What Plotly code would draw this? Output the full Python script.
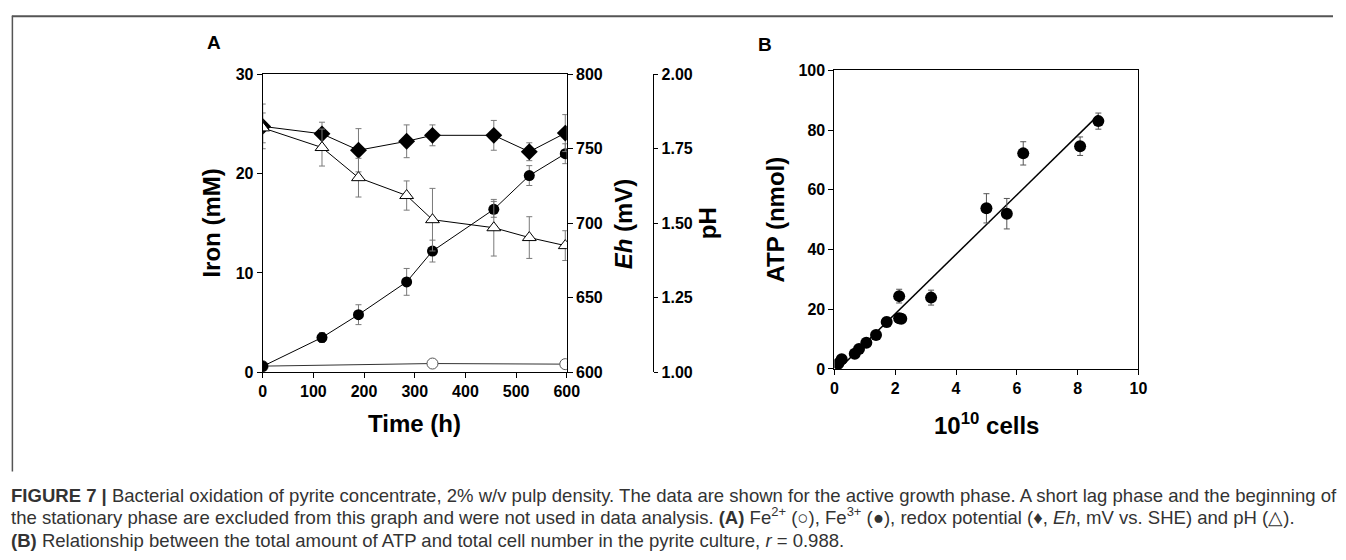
import plotly.graph_objects as go

W, H = 1346, 560

# ---------------- Panel A data ----------------
fe3_time = [0, 117, 189, 284, 335, 456, 526, 597]
fe3_iron = [0.6, 3.5, 5.8, 9.1, 12.2, 16.4, 19.8, 22.0]
fe3_err = [0.2, 0.5, 1.0, 1.35, 1.1, 0.8, 1.0, 1.0]

fe2_time = [0, 335, 597]
fe2_iron = [0.62, 0.88, 0.82]
fe2_err = [0.2, 0.2, 0.2]

eh_time = [0, 117, 189, 284, 335, 456, 526, 597]
eh_mv = [765, 760, 749, 755, 759, 759, 748, 760.5]
eh_err = [15, 7.8, 14.5, 11, 7, 10, 6, 12.4]

ph_time = [0, 117, 189, 284, 335, 456, 526, 597]
ph_val = [1.82, 1.754, 1.653, 1.593, 1.512, 1.485, 1.452, 1.425]
ph_err = [0.05, 0.062, 0.065, 0.049, 0.105, 0.095, 0.07, 0.05]

# ---------------- Panel B data ----------------
cells = [0.13, 0.24, 0.67, 0.81, 1.05, 1.37, 1.72, 2.13, 2.13, 2.20, 3.18, 5.00, 5.67, 6.21, 8.08, 8.68]
atp = [1.8, 3.3, 5.1, 6.7, 8.8, 11.4, 15.7, 24.4, 17.0, 16.8, 23.9, 53.8, 52.0, 72.2, 74.6, 83.0]
atp_err = [0.4, 0.5, 0.5, 0.5, 0.6, 0.6, 1.6, 2.3, 1.0, 1.0, 2.5, 4.9, 5.1, 3.9, 3.1, 2.7]
fit_x = [0.12, 8.68]
fit_y = [-0.25, 85.0]

# axis ticks
a_x_ticks = [0, 100, 200, 300, 400, 500, 600]
iron_ticks = [0, 10, 20, 30]
eh_ticks = [600, 650, 700, 750, 800]
ph_ticks = [1.00, 1.25, 1.50, 1.75, 2.00]
ph_labels = ["1.00", "1.25", "1.50", "1.75", "2.00"]
b_x_ticks = [0, 2, 4, 6, 8, 10]
b_y_ticks = [0, 20, 40, 60, 80, 100]


def px(x):
    return x / W


def py(y):
    return 1 - y / H


FONT = "Liberation Sans, Arial, sans-serif"
tickfont = dict(family=FONT, size=16, color="black", weight="bold")
errc = "#7a7a7a"

fig = go.Figure()

# Panel A traces
fig.add_trace(go.Scatter(
    x=fe2_time, y=fe2_iron, mode="lines+markers", xaxis="x", yaxis="y",
    line=dict(color="#333", width=1),
    marker=dict(symbol="circle", size=11, color="white", line=dict(color="#555", width=1)),
    error_y=dict(type="data", array=fe2_err, color=errc, thickness=1, width=3),
    showlegend=False))
fig.add_trace(go.Scatter(
    x=fe3_time, y=fe3_iron, mode="lines+markers", xaxis="x", yaxis="y",
    line=dict(color="black", width=1),
    marker=dict(symbol="circle", size=11, color="black"),
    error_y=dict(type="data", array=fe3_err, color=errc, thickness=1, width=3),
    showlegend=False))
fig.add_trace(go.Scatter(
    x=eh_time, y=eh_mv, mode="lines+markers", xaxis="x", yaxis="y2",
    line=dict(color="black", width=1),
    marker=dict(symbol="diamond", size=13, color="black"),
    error_y=dict(type="data", array=eh_err, color=errc, thickness=1, width=3),
    showlegend=False))
fig.add_trace(go.Scatter(
    x=ph_time, y=ph_val, mode="lines+markers", xaxis="x", yaxis="y3",
    line=dict(color="black", width=1),
    marker=dict(symbol="triangle-up", size=12, color="white", line=dict(color="black", width=1)),
    error_y=dict(type="data", array=ph_err, color=errc, thickness=1, width=3),
    showlegend=False))

# Panel B traces
fig.add_trace(go.Scatter(
    x=fit_x, y=fit_y, mode="lines", xaxis="x2", yaxis="y4",
    line=dict(color="black", width=1.5), showlegend=False))
fig.add_trace(go.Scatter(
    x=cells, y=atp, mode="markers", xaxis="x2", yaxis="y4",
    marker=dict(symbol="circle", size=12, color="black"),
    error_y=dict(type="data", array=atp_err, color="#555", thickness=1, width=3),
    showlegend=False))

axis_common = dict(showgrid=False, zeroline=False, showline=True, linecolor="black",
                   linewidth=1, ticks="outside", ticklen=5, tickwidth=1,
                   tickcolor="black", tickfont=tickfont)

fig.update_layout(
    width=W, height=H,
    margin=dict(l=0, r=0, t=0, b=0),
    paper_bgcolor="white", plot_bgcolor="white",
    xaxis=dict(domain=[px(262), px(570)], range=[0, 600], tickvals=a_x_ticks,
               anchor="y", mirror=True, **axis_common),
    yaxis=dict(domain=[py(375.7), py(68.3)], range=[0, 30], tickvals=iron_ticks,
               anchor="x", **axis_common),
    yaxis2=dict(range=[600, 800], tickvals=eh_ticks, overlaying="y", side="right",
                anchor="x", **axis_common),
    yaxis3=dict(range=[1, 2], tickvals=ph_ticks, ticktext=ph_labels, overlaying="y",
                side="right", anchor="free", position=px(657.7),
                **{**axis_common, "ticklen": 4}),
    xaxis2=dict(domain=[px(841), px(1149)], range=[0, 10], tickvals=b_x_ticks,
                anchor="y4", mirror=True, **axis_common),
    yaxis4=dict(domain=[py(372.3), py(64.3)], range=[0, 100], tickvals=b_y_ticks,
                anchor="x2", mirror=True, **axis_common),
)

title_font = dict(family=FONT, size=24, color="black", weight="bold")
anns = [
    dict(text="A", x=px(213), y=py(36), font=dict(family=FONT, size=19, color="black", weight="bold")),
    dict(text="B", x=px(771), y=py(38), font=dict(family=FONT, size=19, color="black", weight="bold")),
    dict(text="Iron (mM)", x=px(210), y=py(222), textangle=-90, font=title_font),
    dict(text="<i>Eh</i> (mV)", x=px(627), y=py(223), textangle=-90, font=title_font),
    dict(text="pH", x=px(712), y=py(222), textangle=-90, font=title_font),
    dict(text="Time (h)", x=px(416), y=py(429), font=title_font),
    dict(text="ATP (nmol)", x=px(781), y=py(218), textangle=-90, font=title_font),
    dict(text="10<sup>10</sup> cells", x=px(995), y=py(429), font=title_font),
]
for a in anns:
    fig.add_annotation(xref="paper", yref="paper", showarrow=False,
                       xanchor="center", yanchor="middle", **a)

cap_font = dict(family="Liberation Sans, Arial, sans-serif", size=18.55, color="#333")
cap_lines = [
    "<b>FIGURE 7 |</b> Bacterial oxidation of pyrite concentrate, 2% w/v pulp density. The data are shown for the active growth phase. A short lag phase and the beginning of",
    "the stationary phase are excluded from this graph and were not used in data analysis. <b>(A)</b> Fe<sup>2+</sup> (○), Fe<sup>3+</sup> (●), redox potential (♦, <i>Eh</i>, mV vs. SHE) and pH (△).",
    "<b>(B)</b> Relationship between the total amount of ATP and total cell number in the pyrite culture, <i>r</i> = 0.988.",
]
cap_y = [503, 524, 549]
for t, yy in zip(cap_lines, cap_y):
    fig.add_annotation(xref="paper", yref="paper", showarrow=False, xanchor="left",
                       yanchor="middle", align="left", x=px(5), y=py(yy),
                       text=t, font=cap_font)

# figure frame
fig.add_shape(type="line", xref="paper", yref="paper", x0=px(8), x1=1, y0=py(8.5), y1=py(8.5),
              line=dict(color="#555", width=2))
fig.add_shape(type="line", xref="paper", yref="paper", x0=px(8.5), x1=px(8.5), y0=py(8), y1=py(478),
              line=dict(color="#555", width=1.5))

fig.write_html("out.html", config={"displayModeBar": False})

# remove default page margins so the figure sits exactly in the 1346x560 window
with open("out.html", "r", encoding="utf-8") as f:
    html = f.read()
html = html.replace("<head>", "<head><style>html,body{margin:0;padding:0;overflow:hidden;}</style>", 1)
with open("out.html", "w", encoding="utf-8") as f:
    f.write(html)
